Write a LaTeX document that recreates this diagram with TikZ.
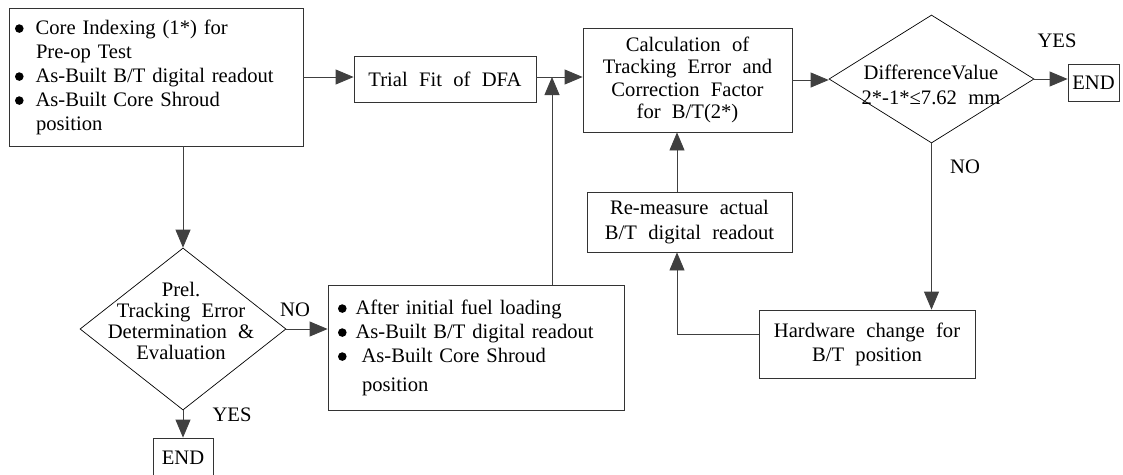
\documentclass[tikz,border=0pt]{standalone}
\usepackage{fontspec}
\setmainfont{Liberation Serif}[WordSpace=2.2]
\usetikzlibrary{shapes.geometric,arrows.meta}
\newcommand\mybul{\tikz[baseline=-5.5pt]\fill (0,0) circle (4.3pt);}
\begin{document}
\begin{tikzpicture}[x=1pt,y=-1pt,
  font=\fontsize{20.6}{24}\selectfont,
  box/.style={draw=black!80,line width=0.8pt,inner sep=0pt,align=center},
  dia/.style={diamond,draw=black,line width=0.7pt,inner sep=0pt},
  conn/.style={draw=black!75,line width=0.8pt},
  arr/.style={conn,-{Triangle[length=18pt,width=15pt]}},
  lbl/.style={inner sep=0pt,align=center}]
\useasboundingbox (0,0) rectangle (1123,474);

% boxes
\node[box,minimum width=294pt,minimum height=138pt,text width=282pt,align=left] (A) at (156,77)
  {\mybul\hspace{12pt}Core Indexing (1*) for\\ \hspace*{21pt}Pre-op Test\\ \mybul\hspace{12pt}As-Built B/T digital readout\\ \mybul\hspace{12pt}As-Built Core Shroud\\ \hspace*{21pt}position};
\node[box,minimum width=182pt,minimum height=46pt] (T) at (445,79) {Trial Fit of DFA};
\node[box,minimum width=209pt,minimum height=104pt,font=\fontsize{20.6}{22.3}\selectfont] (C) at (687.5,80)
  {Calculation of\\Tracking Error and\\Correction Factor\\for B/T(2*)};
\node[box,minimum width=205pt,minimum height=60pt,font=\fontsize{20.6}{25}\selectfont] (R) at (689.5,222)
  {Re-measure actual\\B/T digital readout};
\node[box,minimum width=216pt,minimum height=68pt] (H) at (867,344)
  {Hardware change for\\B/T position};
\node[box,minimum width=296pt,minimum height=125pt,text width=276pt,align=left] (I) at (476,347.5)
  {\mybul\hspace{9pt}After initial fuel loading\\ \mybul\hspace{9pt}As-Built B/T digital readout\\ \mybul\hspace{15pt}As-Built Core Shroud\\[5pt] \hspace*{24pt}position};
\node[box,minimum width=60pt,minimum height=40pt] (E1) at (183,458) {END};
\node[box,minimum width=51pt,minimum height=37pt] (E2) at (1093.5,82.5) {END};

% decisions
\node[dia,minimum width=206pt,minimum height=162pt] (D1) at (183,329) {};
\node[lbl,font=\fontsize{20.6}{21}\selectfont] (D1t) at (181,321)
  {Prel.\\Tracking Error\\Determination \&\\Evaluation};
\node[dia,minimum width=205pt,minimum height=128pt] (D2) at (931.5,79) {};
\node[lbl,font=\fontsize{20.6}{25}\selectfont] (D2t) at (931,85)
  {DifferenceValue\\2*-1*≤7.62 mm};

% labels
\node[lbl] (yes1) at (232,415) {YES};
\node[lbl] (no1) at (295,310) {NO};
\node[lbl] (no2) at (965,167) {NO};
\node[lbl] (yes2) at (1057,41) {YES};

% connectors
\coordinate (j) at (552,77);
\coordinate (k) at (677,334);
\draw[arr] (A.east) -- (A.east -| T.west);
\draw[arr] (T.east |- j) -- (C.west |- j);
\draw[arr] (I.north -| j) -- (j);
\draw[arr] (C.east) -- (C.east -| D2.west);
\draw[arr] (D2.east) -- (D2.east -| E2.west);
\draw[arr] (D2.south) -- (D2.south |- H.north);
\draw[arr] (H.west |- k) -- (k) -- (k |- R.south);
\draw[arr] (R.north -| k) -- (k |- C.south);
\draw[arr] (D1.north |- A.south) -- (D1.north);
\draw[arr] (D1.east) -- (D1.east -| I.west);
\draw[arr] (D1.south) -- (E1.north);
\end{tikzpicture}
\end{document}
